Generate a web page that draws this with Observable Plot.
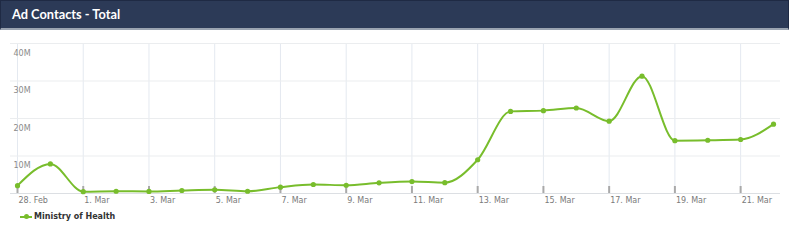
<!DOCTYPE html>
<html>
<head>
<meta charset="utf-8">
<script src="https://cdn.jsdelivr.net/npm/d3@7"></script>
<script src="https://cdn.jsdelivr.net/npm/@observablehq/plot@0.6"></script>
<style>
  html, body { margin: 0; padding: 0; background: #fff; }
  #title {
    box-sizing: border-box; width: 789px; height: 30px;
    background: #2c3a57; border: 1px solid #1f2a44; border-bottom: 2px solid #9aa3b0;
    color: #fff; font: bold 12.8px Lato, sans-serif; padding: 0 0 0 11px; line-height: 27px;
  }
  #chart svg { display: block; }
  #legend { position: relative; height: 20px; font: bold 8px "DejaVu Sans", sans-serif; color: #333; }
  #legend .sym { position: absolute; left: 20px; top: 6px; width: 12px; height: 2px; background: #78bd2c; }
  #legend .sym::after { content: ""; position: absolute; left: 3.5px; top: -2px; width: 5px; height: 5px; border-radius: 50%; background: #78bd2c; }
  #legend .lab { position: absolute; left: 34px; top: 2px; }
</style>
</head>
<body>
<div id="title">Ad Contacts - Total</div>
<div id="chart"></div>
<div id="legend"><span class="sym"></span><span class="lab">Ministry of Health</span></div>
<script>
const seriesName = "Ministry of Health";
const dates = ["2020-02-28","2020-02-29","2020-03-01","2020-03-02","2020-03-03","2020-03-04","2020-03-05","2020-03-06","2020-03-07","2020-03-08","2020-03-09","2020-03-10","2020-03-11","2020-03-12","2020-03-13","2020-03-14","2020-03-15","2020-03-16","2020-03-17","2020-03-18","2020-03-19","2020-03-20","2020-03-21","2020-03-22"];
const contactsM = [2.1, 7.9, 0.5, 0.6, 0.55, 0.8, 1.0, 0.6, 1.7, 2.4, 2.2, 2.85, 3.2, 2.9, 9.0, 21.9, 22.1, 22.8, 19.3, 31.3, 14.1, 14.2, 14.4, 18.5];
const xTickDates = ["2020-02-28","2020-03-01","2020-03-03","2020-03-05","2020-03-07","2020-03-09","2020-03-11","2020-03-13","2020-03-15","2020-03-17","2020-03-19","2020-03-21"];
const yTicksM = [10, 20, 30, 40];

const data = dates.map((d, i) => ({date: new Date(d), value: contactsM[i] * 1e6}));
const xt = xTickDates.map(d => new Date(d));
const green = "#78bd2c";

const chart = Plot.plot({
  width: 791,
  height: 180,
  marginLeft: 17,
  marginRight: 18,
  marginTop: 13,
  marginBottom: 17,
  style: {fontFamily: "DejaVu Sans", fontSize: "8px", color: "#888", background: "white", overflow: "visible"},
  x: {type: "utc", domain: [new Date(dates[0]), new Date(dates[dates.length - 1])]},
  y: {domain: [0, 40e6]},
  marks: [
    Plot.ruleX(xt, {x: d => d, stroke: "#e4e9f0", strokeWidth: 1}),
    Plot.ruleY(yTicksM.map(v => v * 1e6), {y: d => d, stroke: "#ebedef", strokeWidth: 1, insetLeft: -7, insetRight: -7}),
    Plot.ruleY([0], {y: d => d, stroke: "#dcdfe3", strokeWidth: 1, insetLeft: -7, insetRight: -7}),
    Plot.ruleX(xt, {x: d => d, stroke: "#a9a9a9", strokeWidth: 2, insetTop: 143}),
    Plot.axisY(yTicksM.map(v => v * 1e6), {anchor: "left", tickSize: 0, tickPadding: 3, textAnchor: "start", dx: -1, dy: 9.5, tickFormat: d => (d / 1e6) + "M", label: null, fill: "#8a8a8a"}),
    Plot.axisX(xt, {anchor: "bottom", tickSize: 0, tickPadding: 4, textAnchor: "start", dx: 1, tickFormat: d => d3.utcFormat("%-d. %b")(d), label: null, fill: "#7a7a7a"}),
    Plot.line(data, {x: "date", y: "value", curve: "monotone-x", stroke: green, strokeWidth: 2}),
    Plot.dot(data, {x: "date", y: "value", r: 2.6, fill: green, stroke: "none"})
  ]
});
document.getElementById("chart").appendChild(chart);
</script>
</body>
</html>
